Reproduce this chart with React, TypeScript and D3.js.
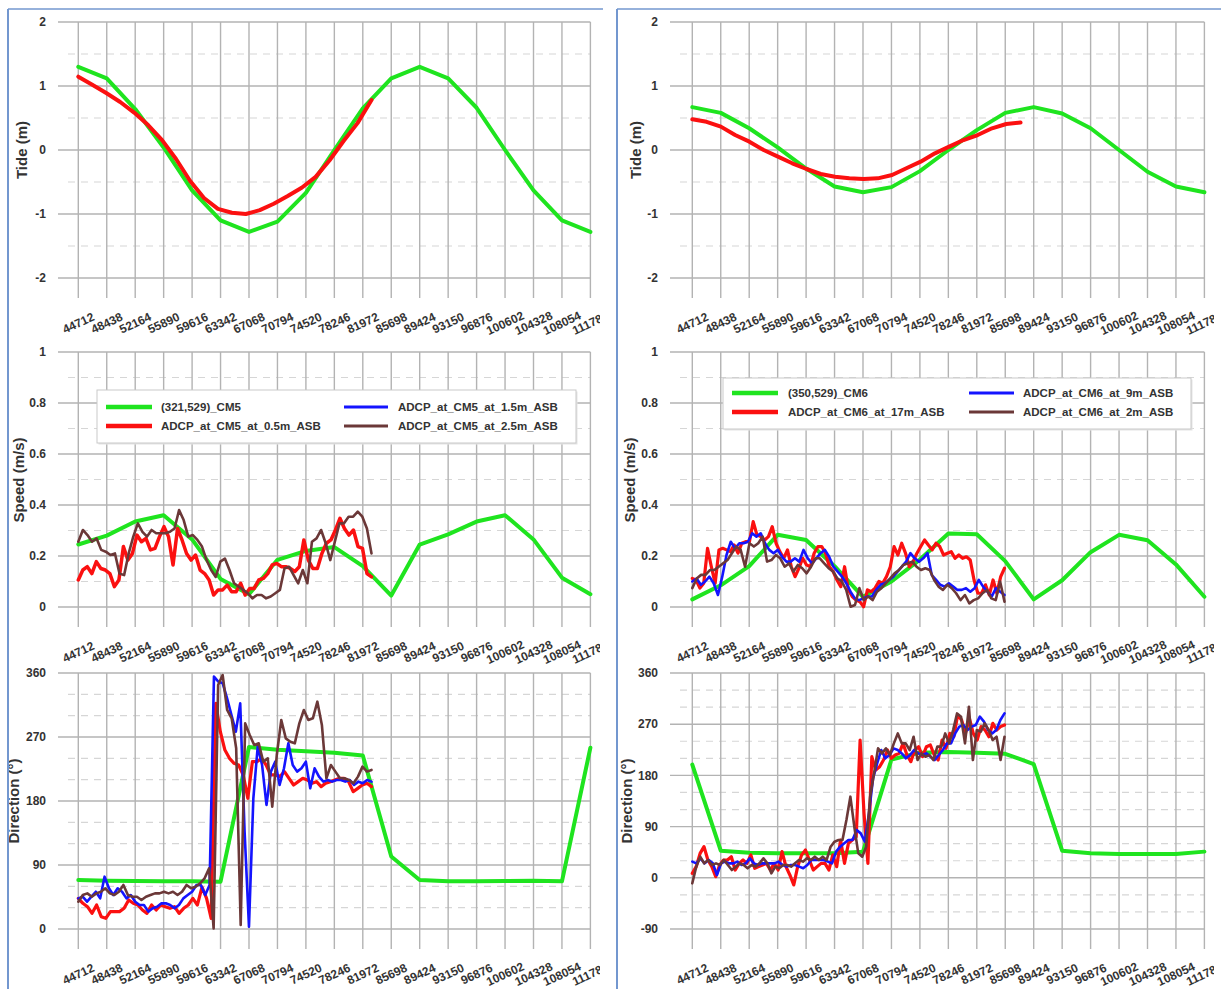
import React from "react";
import * as d3 from "d3";

// ---------- DATA ----------
const xTickValues = [44712, 48438, 52164, 55890, 59616, 63342, 67068, 70794, 74520, 78246, 81972, 85698, 89424, 93150, 96876, 100602, 104328, 108054, 111780];
const xTickLabels = ["44712", "48438", "52164", "55890", "59616", "63342", "67068", "70794", "74520", "78246", "81972", "85698", "89424", "93150", "96876", "100602", "104328", "108054", "111780"];

const tideTicks = [-2, -1, 0, 1, 2];
const tideMinor = [-1.5, -0.5, 0.5, 1.5];
const speedTicks = [0, 0.2, 0.4, 0.6, 0.8, 1];
const speedMinor = [0.1, 0.3, 0.5, 0.7, 0.9];
const dirTicksCM5 = [0, 90, 180, 270, 360];
const dirMinorCM5 = [30, 60, 120, 150, 210, 240, 300, 330];
const dirTicksCM6 = [-90, 0, 90, 180, 270, 360];
const dirMinorCM6 = [-60, -30, 30, 60, 120, 150, 210, 240, 300, 330];

// model (green) values at each tick time
const cm5TideModel = [1.30, 1.12, 0.64, 0.04, -0.63, -1.10, -1.28, -1.12, -0.67, 0.00, 0.65, 1.12, 1.30, 1.12, 0.66, 0.00, -0.63, -1.10, -1.28];
const cm6TideModel = [0.67, 0.58, 0.34, 0.04, -0.29, -0.57, -0.66, -0.58, -0.33, 0.00, 0.31, 0.58, 0.67, 0.57, 0.34, 0.00, -0.34, -0.57, -0.66];
const cm5SpeedModel = [0.245, 0.28, 0.335, 0.36, 0.265, 0.11, 0.05, 0.185, 0.22, 0.235, 0.16, 0.045, 0.245, 0.285, 0.335, 0.36, 0.265, 0.115, 0.05];
const cm6SpeedModel = [0.03, 0.085, 0.16, 0.283, 0.263, 0.16, 0.04, 0.1, 0.186, 0.288, 0.285, 0.18, 0.03, 0.105, 0.215, 0.283, 0.262, 0.167, 0.04];
const cm5DirModel = [69, 68, 67.5, 67, 67, 66.5, 256, 252, 250, 248, 244, 102, 69, 67, 67, 67.5, 68, 67, 255];
const cm6DirModel = [199, 47.6, 44, 43, 43, 43, 46, 208, 220, 221, 220, 218, 200, 47.6, 43, 42, 42, 42, 46];

// observations (ADCP), evenly sampled between start and end times
const obsStart = 44712;
const cm5ObsEnd = 83112;
const cm6ObsEnd = 85600;
const cm6TideObsEnd = 87700;

const cm5TideObs = [1.146, 1.02, 0.89, 0.75, 0.585, 0.39, 0.155, -0.14, -0.48, -0.75, -0.92, -0.98, -1.0, -0.94, -0.84, -0.72, -0.59, -0.42, -0.16, 0.14, 0.42, 0.78];
const cm6TideObs = [0.48, 0.44, 0.365, 0.234, 0.13, 0.0, -0.104, -0.208, -0.297, -0.375, -0.417, -0.443, -0.453, -0.443, -0.391, -0.286, -0.182, -0.052, 0.052, 0.156, 0.234, 0.339, 0.406, 0.43];

const cm5Speed05 = [0.106, 0.145, 0.158, 0.131, 0.178, 0.151, 0.145, 0.131, 0.080, 0.106, 0.237, 0.184, 0.210, 0.282, 0.256, 0.269, 0.224, 0.230, 0.276, 0.315, 0.276, 0.165, 0.308, 0.263, 0.210, 0.184, 0.204, 0.145, 0.131, 0.106, 0.047, 0.067, 0.067, 0.086, 0.060, 0.060, 0.093, 0.047, 0.073, 0.073, 0.106, 0.112, 0.131, 0.165, 0.171, 0.158, 0.158, 0.151, 0.139, 0.158, 0.263, 0.184, 0.151, 0.151, 0.210, 0.250, 0.263, 0.302, 0.348, 0.308, 0.282, 0.302, 0.237, 0.230, 0.131, 0.118];
const cm5Speed25 = [0.256, 0.302, 0.282, 0.256, 0.269, 0.224, 0.217, 0.204, 0.210, 0.131, 0.125, 0.210, 0.276, 0.328, 0.295, 0.276, 0.302, 0.289, 0.289, 0.289, 0.295, 0.308, 0.380, 0.341, 0.276, 0.282, 0.263, 0.237, 0.184, 0.145, 0.118, 0.178, 0.190, 0.145, 0.093, 0.080, 0.067, 0.054, 0.034, 0.047, 0.047, 0.034, 0.041, 0.054, 0.067, 0.151, 0.158, 0.125, 0.093, 0.145, 0.093, 0.256, 0.269, 0.302, 0.250, 0.184, 0.256, 0.328, 0.328, 0.354, 0.354, 0.374, 0.354, 0.308, 0.210];

const cm5Dir05 = [43.1, 36.1, 31.4, 22.0, 33.8, 17.3, 15.0, 24.4, 24.4, 24.4, 29.1, 40.8, 36.1, 33.8, 26.7, 22.0, 33.8, 26.7, 33.8, 31.4, 29.1, 31.4, 22.0, 29.1, 33.8, 43.1, 33.8, 58.9, 43.1, 15.0, 317.3, 277.5, 251.7, 240.0, 233.0, 230.6, 216.6, 183.8, 235.3, 235.3, 240.0, 230.6, 216.6, 216.6, 214.3, 221.3, 211.9, 202.5, 207.2, 211.9, 209.6, 204.9, 207.2, 200.2, 204.9, 207.2, 209.6, 211.9, 211.9, 207.2, 193.1, 197.8, 202.5, 204.9, 200.2];
const cm5Dir15 = [43.1, 45.4, 38.4, 45.4, 52.4, 43.1, 73.6, 57.2, 47.8, 57.2, 52.4, 43.1, 47.8, 38.4, 33.8, 33.8, 24.4, 29.1, 31.4, 36.1, 36.1, 33.8, 29.1, 33.8, 43.1, 47.8, 52.4, 61.9, 61.9, 47.8, 61.9, 354.9, 348, 345.5, 324.4, 301, 277.5, 317.3, 136.9, 3.3, 183.8, 256.4, 230.6, 174.4, 221.3, 235.3, 202.5, 226.0, 261.1, 230.6, 221.3, 226.0, 235.3, 197.8, 226.0, 214.3, 207.2, 209.6, 207.2, 209.6, 209.6, 207.2, 209.6, 202.5, 207.2, 204.9, 209.6, 207.2];
const cm5Dir25 = [38.4, 47.8, 50.1, 45.4, 50.1, 52.4, 57.2, 50.1, 47.8, 52.4, 61.9, 47.8, 45.4, 45.4, 40.8, 45.4, 47.8, 50.1, 50.1, 52.4, 50.1, 52.4, 47.8, 52.4, 61.9, 57.2, 59.5, 64.2, 71.3, 85.3, 0.9, 343.1, 357.2, 308.0, 296.3, 254.1, 5.6, 289.2, 272.8, 258.7, 261.1, 235.3, 240.0, 172.0, 244.7, 293.9, 268.1, 263.4, 261.1, 289.2, 308.0, 293.9, 296.3, 319.7, 286.9, 211.9, 230.6, 221.3, 211.9, 211.9, 209.6, 204.9, 214.3, 228.3, 221.3, 223.7];

const cm6Speed17 = [0.112, 0.106, 0.074, 0.093, 0.230, 0.158, 0.093, 0.224, 0.230, 0.224, 0.217, 0.243, 0.211, 0.250, 0.256, 0.256, 0.335, 0.282, 0.276, 0.263, 0.276, 0.315, 0.250, 0.217, 0.191, 0.224, 0.158, 0.119, 0.152, 0.191, 0.165, 0.158, 0.211, 0.237, 0.237, 0.211, 0.158, 0.139, 0.106, 0.080, 0.158, 0.067, 0.041, 0.027, 0.021, 0.001, 0.067, 0.060, 0.074, 0.100, 0.093, 0.119, 0.158, 0.237, 0.204, 0.250, 0.211, 0.158, 0.178, 0.211, 0.237, 0.263, 0.243, 0.224, 0.250, 0.237, 0.204, 0.211, 0.217, 0.191, 0.204, 0.191, 0.197, 0.184, 0.106, 0.054, 0.054, 0.087, 0.047, 0.106, 0.054, 0.119, 0.152];
const cm6Speed9 = [0.100, 0.112, 0.087, 0.100, 0.119, 0.093, 0.047, 0.119, 0.204, 0.256, 0.230, 0.250, 0.250, 0.256, 0.289, 0.276, 0.289, 0.250, 0.224, 0.211, 0.224, 0.197, 0.178, 0.178, 0.191, 0.178, 0.224, 0.191, 0.171, 0.191, 0.211, 0.224, 0.197, 0.158, 0.139, 0.119, 0.093, 0.060, 0.034, 0.027, 0.034, 0.041, 0.041, 0.067, 0.087, 0.093, 0.106, 0.119, 0.139, 0.158, 0.178, 0.211, 0.191, 0.178, 0.191, 0.211, 0.125, 0.106, 0.087, 0.080, 0.093, 0.080, 0.067, 0.067, 0.074, 0.060, 0.074, 0.106, 0.080, 0.060, 0.041, 0.074, 0.060, 0.047];
const cm6Speed2 = [0.074, 0.112, 0.126, 0.126, 0.145, 0.145, 0.158, 0.171, 0.184, 0.211, 0.237, 0.224, 0.158, 0.250, 0.237, 0.250, 0.276, 0.178, 0.184, 0.204, 0.191, 0.158, 0.171, 0.139, 0.165, 0.152, 0.132, 0.158, 0.191, 0.191, 0.171, 0.152, 0.139, 0.112, 0.100, 0.067, 0.001, 0.008, 0.074, 0.027, 0.041, 0.027, 0.060, 0.074, 0.093, 0.112, 0.132, 0.145, 0.165, 0.171, 0.178, 0.158, 0.145, 0.152, 0.145, 0.106, 0.080, 0.067, 0.087, 0.074, 0.054, 0.027, 0.047, 0.014, 0.027, 0.034, 0.054, 0.067, 0.034, 0.027, 0.100, 0.021];

const cm6Dir17 = [7.9, 19.6, 43.0, 54.7, 31.3, 19.6, 2.0, 22.5, 31.3, 31.3, 37.1, 13.7, 25.4, 31.3, 25.4, 40.1, 16.7, 19.6, 22.5, 25.4, 13.7, 25.4, 13.7, 45.9, 19.6, 5.0, -12.6, 19.6, 40.1, 48.9, 31.3, 13.7, 19.6, 25.4, 25.4, 13.7, 40.1, 19.6, 66.4, 25.4, 60.6, 66.4, 72.3, 242.2, 113.3, 25.4, 212.9, 189.4, 195.3, 207.0, 224.6, 210.0, 215.8, 218.7, 236.3, 215.8, 204.1, 224.6, 230.5, 212.9, 230.5, 233.4, 215.8, 207.0, 242.2, 227.5, 253.8, 248.0, 286.1, 277.3, 253.8, 280.2, 253.8, 242.2, 265.7, 259.8, 248.0, 271.5, 259.8, 265.7, 268.6];
const cm6Dir9 = [28.4, 25.4, 34.2, 25.4, 31.3, 25.4, 5.0, 25.4, 28.4, 25.4, 25.4, 28.4, 22.5, 25.4, 34.2, 25.4, 22.5, 25.4, 25.4, 25.4, 25.4, 28.4, 22.5, 19.6, 22.5, 22.5, 19.6, 16.7, 22.5, 31.3, 31.3, 31.3, 31.3, 28.4, 25.4, 45.9, 54.7, 60.6, 66.4, 66.4, 84.0, 78.1, 63.5, 113.3, 174.8, 201.2, 224.6, 210.0, 215.8, 227.5, 224.6, 218.7, 210.0, 215.8, 224.6, 218.7, 215.8, 218.7, 212.9, 207.0, 215.8, 224.6, 236.3, 236.3, 253.8, 265.7, 268.6, 259.8, 265.7, 268.6, 283.3, 274.5, 259.8, 253.8, 259.8, 277.3, 289.0];
const cm6Dir2 = [-9.7, 19.6, 37.1, 25.4, 31.3, 22.5, 25.4, 22.5, 31.3, 22.5, 13.7, 19.6, 25.4, 22.5, 16.7, 22.5, 19.6, 25.4, 34.2, 25.4, 7.9, 19.6, 16.7, 22.5, 22.5, 19.6, 25.4, 31.3, 28.4, 34.2, 31.3, 37.1, 31.3, 37.1, 31.3, 54.7, 63.5, 66.4, 66.4, 101.6, 142.6, 89.8, 43.0, 37.1, 54.7, 142.6, 183.7, 227.5, 218.7, 227.5, 215.8, 236.3, 253.8, 236.3, 236.3, 224.6, 248.0, 207.0, 218.7, 212.9, 215.8, 207.0, 230.5, 230.5, 253.8, 236.3, 259.8, 289.0, 283.2, 236.3, 300.7, 207.0, 259.8, 256.9, 271.5, 259.8, 242.2, 248.0, 207.0, 248.0];

const cm5LegendLabels = ["(321,529)_CM5", "ADCP_at_CM5_at_0.5m_ASB", "ADCP_at_CM5_at_1.5m_ASB", "ADCP_at_CM5_at_2.5m_ASB"];
const cm6LegendLabels = ["(350,529)_CM6", "ADCP_at_CM6_at_17m_ASB", "ADCP_at_CM6_at_9m_ASB", "ADCP_at_CM6_at_2m_ASB"];

// ---------- STYLE / LAYOUT ----------
const GREEN = "#1fe41f";
const RED = "#fb1010";
const BLUE = "#1414ff";
const BROWN = "#6b3838";
const FONT = "'Liberation Sans', Arial, sans-serif";
const TEXT = "#333333";

type Pt = { t: number; v: number };
const atTicks = (vals: number[]): Pt[] => vals.map((v, i) => ({ t: xTickValues[i], v }));
const spread = (vals: number[], t0: number, t1: number): Pt[] =>
  vals.map((v, i) => ({ t: t0 + ((t1 - t0) * i) / (vals.length - 1), v }));

const cols = [
  { labelX: 46, majorX0: 58, minorX0: 68, x0: 78.3, x1: 590.4, clipX0: 0, clipX1: 600, frameX: 8, frameTopX1: 603, titleX: [22, 19, 14] },
  { labelX: 658, majorX0: 670, minorX0: 680, x0: 692.3, x1: 1204.4, clipX0: 610, clipX1: 1214, frameX: 617, frameTopX1: 1221, titleX: [636, 630, 627] },
];
const rows = [
  { yTop: 22, yBottom: 278, title: "Tide (m)", titleY: 150 },
  { yTop: 352, yBottom: 607, title: "Speed (m/s)", titleY: 480 },
  { yTop: 673, yBottom: 929, title: "Direction (°)", titleY: 801 },
];

type S = { pts: Pt[]; color: string; width: number };

function Panel(props: {
  ci: number; ri: number; domain: [number, number]; major: number[]; minor: number[]; series: S[];
}) {
  const { ci, ri, domain, major, minor, series } = props;
  const col = cols[ci];
  const row = rows[ri];
  const x = d3.scaleLinear().domain([xTickValues[0], xTickValues[xTickValues.length - 1]]).range([col.x0, col.x1]);
  const y = d3.scaleLinear().domain(domain).range([row.yBottom, row.yTop]);
  const gridBottom = row.yBottom + 20;
  const line = d3.line<Pt>().x((d) => x(d.t)).y((d) => y(d.v));
  return (
    <g>
      {minor.map((v) => (
        <line key={"mi" + v} x1={col.minorX0} x2={col.x1} y1={y(v)} y2={y(v)} stroke="#d6d6d6" strokeWidth={1.2} strokeDasharray="7,6" />
      ))}
      {major.map((v) => (
        <line key={"ma" + v} x1={col.majorX0} x2={col.x1} y1={y(v)} y2={y(v)} stroke="#b3b3b3" strokeWidth={1.4} />
      ))}
      {xTickValues.map((t) => (
        <line key={"vx" + t} x1={x(t)} x2={x(t)} y1={row.yTop} y2={gridBottom} stroke="#b3b3b3" strokeWidth={1.4} />
      ))}
      {major.map((v) => (
        <text key={"yl" + v} x={col.labelX} y={y(v)} dy="0.35em" textAnchor="end" fontFamily={FONT} fontWeight="bold" fontSize={12} fill={TEXT}>
          {String(v)}
        </text>
      ))}
      {xTickValues.map((t, i) => (
        <text
          key={"xl" + t}
          transform={`translate(${x(t)},${gridBottom + 25}) rotate(-25)`}
          textAnchor="middle"
          dy="0.35em"
          fontFamily={FONT}
          fontWeight="bold"
          fontSize={12}
          fill={TEXT}
        >
          {xTickLabels[i]}
        </text>
      ))}
      <text
        transform={`translate(${col.titleX[ri]},${row.titleY}) rotate(-90)`}
        textAnchor="middle"
        dy="0.35em"
        fontFamily={FONT}
        fontWeight="bold"
        fontSize={15}
        fill={TEXT}
      >
        {row.title}
      </text>
      {series.map((s, i) => (
        <path key={"s" + i} d={line(s.pts) || ""} fill="none" stroke={s.color} strokeWidth={s.width} strokeLinejoin="round" strokeLinecap="round" />
      ))}
    </g>
  );
}

function Legend(props: { x: number; y: number; w: number; h: number; rowY: number[]; sx: number[][]; lx: number[]; labels: string[] }) {
  const { x, y, w, h, rowY, sx, lx, labels } = props;
  const items = [
    { label: labels[0], color: GREEN, width: 4.5, c: 0, r: 0 },
    { label: labels[1], color: RED, width: 4.5, c: 0, r: 1 },
    { label: labels[2], color: BLUE, width: 3, c: 1, r: 0 },
    { label: labels[3], color: BROWN, width: 3, c: 1, r: 1 },
  ];
  return (
    <g>
      <rect x={x + 1.5} y={y + 1.5} width={w} height={h} fill="#e4e4e4" />
      <rect x={x} y={y} width={w} height={h} fill="#ffffff" stroke="#c9c9c9" strokeWidth={1} />
      {items.map((it) => (
        <g key={it.label}>
          <line x1={sx[it.c][0]} x2={sx[it.c][1]} y1={rowY[it.r]} y2={rowY[it.r]} stroke={it.color} strokeWidth={it.width} />
          <text x={lx[it.c]} y={rowY[it.r]} dy="0.35em" fontFamily={FONT} fontWeight="bold" fontSize={11.5} fill={TEXT}>
            {it.label}
          </text>
        </g>
      ))}
    </g>
  );
}

export default function App() {
  const cm5 = {
    tide: [
      { pts: atTicks(cm5TideModel), color: GREEN, width: 4 },
      { pts: spread(cm5TideObs, obsStart, cm5ObsEnd), color: RED, width: 4 },
    ],
    speed: [
      { pts: atTicks(cm5SpeedModel), color: GREEN, width: 4 },
      { pts: spread(cm5Speed05, obsStart, cm5ObsEnd), color: RED, width: 3.5 },
      { pts: spread(cm5Speed25, obsStart, cm5ObsEnd), color: BROWN, width: 2.6 },
    ],
    dir: [
      { pts: atTicks(cm5DirModel), color: GREEN, width: 4 },
      { pts: spread(cm5Dir05, obsStart, cm5ObsEnd), color: RED, width: 3.2 },
      { pts: spread(cm5Dir15, obsStart, cm5ObsEnd), color: BLUE, width: 2.6 },
      { pts: spread(cm5Dir25, obsStart, cm5ObsEnd), color: BROWN, width: 2.6 },
    ],
  };
  const cm6 = {
    tide: [
      { pts: atTicks(cm6TideModel), color: GREEN, width: 4 },
      { pts: spread(cm6TideObs, obsStart, cm6TideObsEnd), color: RED, width: 4 },
    ],
    speed: [
      { pts: atTicks(cm6SpeedModel), color: GREEN, width: 4 },
      { pts: spread(cm6Speed17, obsStart, cm6ObsEnd), color: RED, width: 3.2 },
      { pts: spread(cm6Speed9, obsStart, cm6ObsEnd), color: BLUE, width: 2.6 },
      { pts: spread(cm6Speed2, obsStart, cm6ObsEnd), color: BROWN, width: 2.6 },
    ],
    dir: [
      { pts: atTicks(cm6DirModel), color: GREEN, width: 4 },
      { pts: spread(cm6Dir17, obsStart, cm6ObsEnd), color: RED, width: 3.2 },
      { pts: spread(cm6Dir9, obsStart, cm6ObsEnd), color: BLUE, width: 2.6 },
      { pts: spread(cm6Dir2, obsStart, cm6ObsEnd), color: BROWN, width: 2.6 },
    ],
  };
  return (
    <svg width={1221} height={989} style={{ position: "absolute", left: 0, top: 0, background: "#fff" }}>
      <defs>
        {cols.map((c, i) => (
          <clipPath id={"clip" + i} key={i}>
            <rect x={c.clipX0} y={0} width={c.clipX1 - c.clipX0} height={989} />
          </clipPath>
        ))}
      </defs>
      <rect x={0} y={0} width={1221} height={989} fill="#fff" />
      <g clipPath="url(#clip0)">
        <Panel ci={0} ri={0} domain={[-2, 2]} major={tideTicks} minor={tideMinor} series={cm5.tide} />
        <Panel ci={0} ri={1} domain={[0, 1]} major={speedTicks} minor={speedMinor} series={cm5.speed} />
        <Panel ci={0} ri={2} domain={[0, 360]} major={dirTicksCM5} minor={dirMinorCM5} series={cm5.dir} />
        <Legend x={97} y={390} w={479} h={53} rowY={[407, 426]} sx={[[106, 152], [344, 388]]} lx={[161, 398]} labels={cm5LegendLabels} />
      </g>
      <g clipPath="url(#clip1)">
        <Panel ci={1} ri={0} domain={[-2, 2]} major={tideTicks} minor={tideMinor} series={cm6.tide} />
        <Panel ci={1} ri={1} domain={[0, 1]} major={speedTicks} minor={speedMinor} series={cm6.speed} />
        <Panel ci={1} ri={2} domain={[-90, 360]} major={dirTicksCM6} minor={dirMinorCM6} series={cm6.dir} />
        <Legend x={723} y={378} w={468} h={51} rowY={[393, 412]} sx={[[732, 778], [969, 1014]]} lx={[788, 1023]} labels={cm6LegendLabels} />
      </g>
      {cols.map((c, i) => (
        <g key={"f" + i}>
          <line x1={c.frameX} x2={c.frameX} y1={9} y2={989} stroke="#7397cf" strokeWidth={2} />
          <line x1={c.frameX} x2={c.frameTopX1} y1={9} y2={9} stroke="#7397cf" strokeWidth={1.5} />
        </g>
      ))}
    </svg>
  );
}
